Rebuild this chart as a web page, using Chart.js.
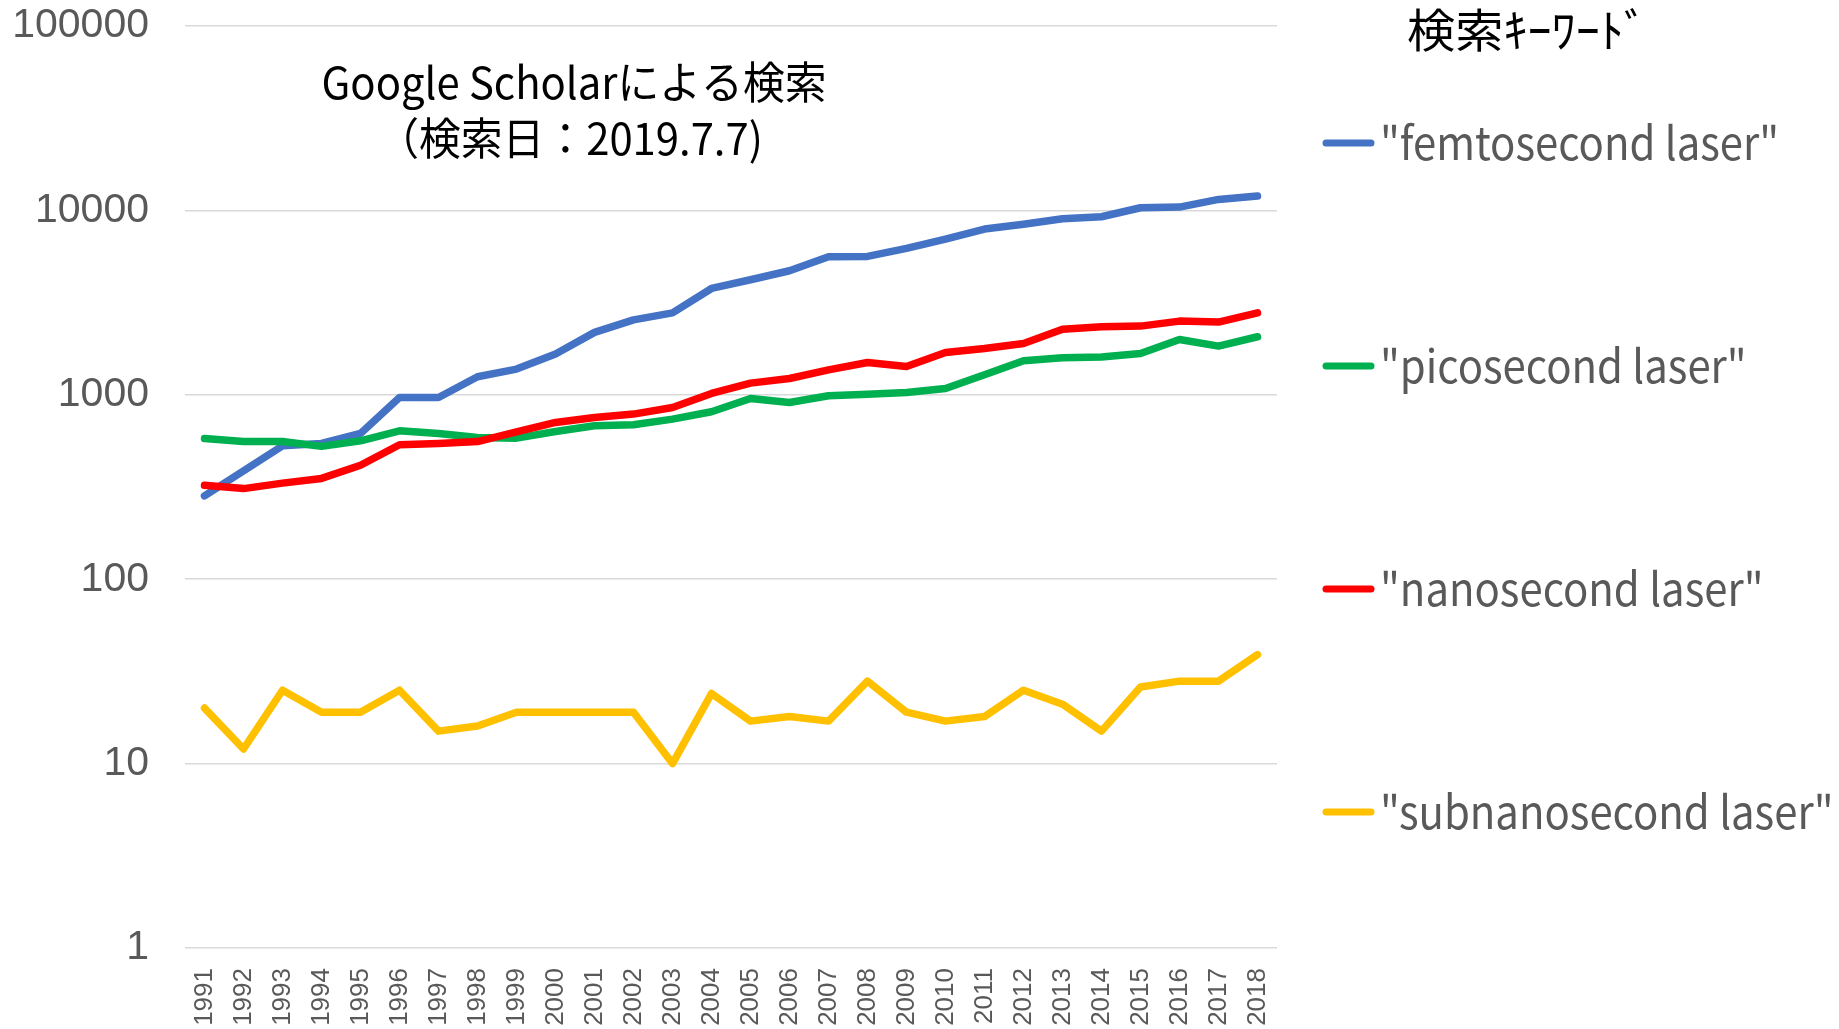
<!DOCTYPE html>
<html>
<head>
<meta charset="utf-8">
<script src="https://cdn.jsdelivr.net/npm/chart.js@4.4.1/dist/chart.umd.min.js"></script>
<style>
  html, body { margin: 0; background: #fff; }
  #wrap { width: 1839px; height: 1029px; }
</style>
</head>
<body>
<div id="wrap"><canvas id="myChart"></canvas></div>
<script>
// values (log axis)
const years = ['1991', '1992', '1993', '1994', '1995', '1996', '1997', '1998', '1999', '2000',
  '2001', '2002', '2003', '2004', '2005', '2006', '2007', '2008', '2009', '2010',
  '2011', '2012', '2013', '2014', '2015', '2016', '2017', '2018']

const femtosecond = [283, 387, 529, 545, 617, 967, 967, 1252, 1378, 1663,
  2180, 2550, 2780, 3773, 4205, 4708, 5605, 5630, 6221, 6986,
  7925, 8410, 9012, 9240, 10340, 10425, 11470, 11960]

const picosecond = [580, 558, 558, 525, 563, 638, 617, 587, 582, 632,
  679, 688, 738, 809, 955, 909, 988, 1008, 1030, 1082,
  1284, 1529, 1590, 1605, 1676, 1996, 1837, 2064]

const nanosecond = [323, 310, 332, 352, 415, 536, 545, 558, 630, 708,
  754, 786, 854, 1017, 1157, 1226, 1366, 1497, 1425, 1697,
  1783, 1899, 2265, 2340, 2358, 2510, 2479, 2785]

const subnanosecond = [20, 12, 25, 19, 19, 25, 15, 16, 19, 19,
  19, 19, 10, 24, 17, 18, 17, 28, 19, 17,
  18, 25, 21, 15, 26, 28, 28, 39]

const seriesNames = ['"femtosecond laser"', '"picosecond laser"', '"nanosecond laser"', '"subnanosecond laser"']
const seriesColors = ['#4472C4', '#00B050', '#FF0000', '#FFC000']
const yTicks = [1, 10, 100, 1000, 10000, 100000]
const titleLines = ['Google Scholarによる検索', '（検索日：2019.7.7)']
const legendTitle = '検索ｷｰﾜｰﾄﾞ'

const jpFont = '"Noto Sans CJK JP", "Noto Sans", sans-serif'

// draw text squeezed/stretched horizontally to look like the narrow Office font
function fillNarrow (ctx, text, x, y, sx) {
  ctx.save()
  ctx.translate(x, y)
  ctx.scale(sx, 1)
  ctx.fillText(text, 0, 0)
  ctx.restore()
}

// title sits inside the plot area, so draw it ourselves
const titleInside = {
  id: 'titleInside',
  afterDraw (chart) {
    const ctx = chart.ctx
    ctx.save()
    ctx.fillStyle = '#000'
    ctx.font = '44px ' + jpFont
    ctx.textAlign = 'center'
    ctx.textBaseline = 'middle'
    fillNarrow(ctx, titleLines[0], 574, 82, 0.95)
    fillNarrow(ctx, titleLines[1], 570, 138, 0.95)
    ctx.restore()
  }
}

// Excel-like legend on the right, items spread down the height
const keywordLegend = {
  id: 'keywordLegend',
  afterDraw (chart) {
    const ctx = chart.ctx
    ctx.save()
    ctx.textBaseline = 'middle'
    ctx.textAlign = 'left'
    ctx.fillStyle = '#000'
    ctx.font = '46px ' + jpFont
    const w = ctx.measureText(legendTitle).width
    fillNarrow(ctx, legendTitle, 1407, 30, 241 / w)

    chart.data.datasets.forEach((ds, i) => {
      const y = 143 + i * 223
      ctx.strokeStyle = ds.borderColor
      ctx.lineWidth = 7
      ctx.lineCap = 'round'
      ctx.beginPath()
      ctx.moveTo(1326, y)
      ctx.lineTo(1371, y)
      ctx.stroke()
      ctx.fillStyle = '#595959'
      ctx.font = '46px ' + jpFont
      fillNarrow(ctx, ds.label, 1380, y, 0.91)
    })
    ctx.restore()
  }
}

const seriesValues = [femtosecond, picosecond, nanosecond, subnanosecond]
const datasets = seriesValues.map((values, i) => ({
  label: seriesNames[i],
  data: values,
  borderColor: seriesColors[i],
  backgroundColor: seriesColors[i],
  borderWidth: 7.5,
  borderCapStyle: 'round',
  borderJoinStyle: 'round',
  pointRadius: 0,
  tension: 0,
  fill: false,
  order: seriesValues.length - i // later series on top, like Excel
}))

const ctx = document.getElementById('myChart').getContext('2d')
const myChart = new Chart(ctx, {
  type: 'line',
  data: {
    labels: years,
    datasets: datasets
  },
  options: {
    responsive: true,
    maintainAspectRatio: false,
    animation: false,
    layout: {
      padding: { top: 26, right: 562, bottom: 0, left: 0 }
    },
    scales: {
      x: {
        offset: true,
        afterFit: scale => { scale.height = 81 },
        grid: { display: false, drawTicks: false },
        border: { display: false },
        ticks: {
          autoSkip: false,
          minRotation: 90,
          maxRotation: 90,
          padding: 20,
          color: '#595959',
          font: { family: '"Liberation Sans", Arial, sans-serif', size: 26 }
        }
      },
      y: {
        type: 'logarithmic',
        min: 1,
        max: 100000,
        afterBuildTicks: scale => {
          scale.ticks = yTicks.map(v => ({ value: v }))
        },
        afterFit: scale => {
          scale.width = 185
          scale.paddingTop = 0
          scale.paddingBottom = 0
        },
        grid: { color: '#D9D9D9', lineWidth: 1.5, drawTicks: false },
        border: { display: false },
        ticks: {
          padding: 36,
          color: '#595959',
          font: { family: '"Liberation Sans", Arial, sans-serif', size: 41 },
          callback: value => String(value)
        }
      }
    },
    plugins: {
      legend: { display: false },
      title: { display: false },
      tooltip: { enabled: false }
    }
  },
  plugins: [titleInside, keywordLegend]
})
</script>
</body>
</html>
